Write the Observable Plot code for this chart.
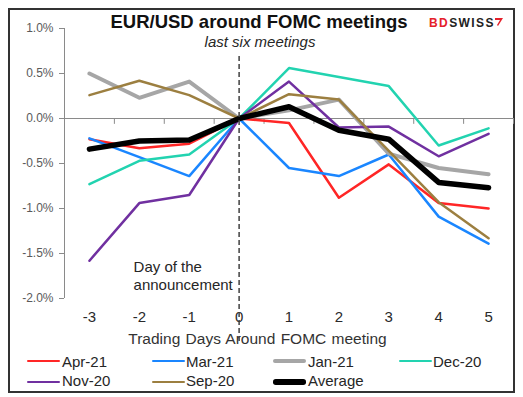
<!DOCTYPE html>
<html><head><meta charset="utf-8">
<script src="https://cdn.jsdelivr.net/npm/d3@7"></script>
<script src="https://cdn.jsdelivr.net/npm/@observablehq/plot@0.6"></script>
<style>
body{margin:0;background:#fff;font-family:"Liberation Sans",Arial,sans-serif;}
#wrap{position:relative;width:523px;height:397px;overflow:hidden;background:#fff;}
#wrap > svg{position:absolute;left:0;top:0;}
.abs{position:absolute;white-space:nowrap;line-height:1;}
#frame{position:absolute;left:8px;top:8px;width:507px;height:385px;box-sizing:border-box;border:2px solid #333;}
</style></head><body><div id="wrap"><div id="frame"></div></div>
<script>
// ---- data ----
const days = [-3, -2, -1, 0, 1, 2, 3, 4, 5];
const seriesNames = ["Apr-21", "Mar-21", "Jan-21", "Dec-20", "Nov-20", "Sep-20", "Average"];
const apr21 = [-0.23, -0.33, -0.28, 0, -0.05, -0.88, -0.51, -0.94, -1.00];
const mar21 = [-0.22, -0.43, -0.64, 0, -0.55, -0.64, -0.40, -1.09, -1.39];
const jan21 = [0.50, 0.23, 0.41, 0, 0.09, 0.21, -0.39, -0.55, -0.62];
const dec20 = [-0.73, -0.47, -0.40, 0, 0.56, 0.46, 0.36, -0.30, -0.11];
const nov20 = [-1.58, -0.94, -0.85, 0, 0.41, -0.10, -0.09, -0.42, -0.17];
const sep20 = [0.26, 0.42, 0.26, 0, 0.27, 0.21, -0.36, -0.93, -1.33];
const average = [-0.34, -0.25, -0.24, 0, 0.13, -0.13, -0.23, -0.71, -0.77];
const yTicks = [-2.0, -1.5, -1.0, -0.5, 0.0, 0.5, 1.0];
const titleText = "EUR/USD around FOMC meetings";
const subtitleText = "last six meetings";
const xLabel = "Trading Days Around FOMC meeting";
const annotation = "Day of the\nannouncement";

// ---- styles ----
const seriesValues = [apr21, mar21, jan21, dec20, nov20, sep20, average];
const colors = ["#ff2626", "#1a86ff", "#a6a6a6", "#22d3b0", "#7030a0", "#9c7f40", "#000000"];
const widths = [2.5, 2.5, 4, 2.5, 2.5, 2.5, 5.5];
const FONT = '"Liberation Sans", Arial, sans-serif';

const rows = [];
seriesNames.forEach((s, i) => days.forEach((d, j) => rows.push({series: s, day: d, value: seriesValues[i][j]})));
const bounds = days.map(d => d + 0.5);

const axisColor = "#8a8a8a";
const marks = [
  Plot.ruleY([0], {stroke: axisColor, strokeWidth: 1}),
  Plot.ruleX([days[0] - 0.5], {stroke: axisColor, strokeWidth: 1}),
  Plot.ruleX(bounds, {x: d => d, y1: 0, y2: -0.065, stroke: axisColor, strokeWidth: 1}),
  Plot.axisY({ticks: yTicks, tickSize: 5, tickPadding: 6, tickFormat: d => d.toFixed(1) + "%",
    fontSize: 12, fill: "#5a5a5a", stroke: axisColor, label: null}),
  Plot.axisX({ticks: days, tickSize: 0, tickPadding: 13, tickFormat: d => String(d),
    fontSize: 15, fill: "#2a2a2a", label: null}),
  Plot.text([annotation], {x: -2.116, y: -1.9, text: d => d, textAnchor: "start", lineAnchor: "bottom",
    lineHeight: 1.15, fontSize: 15, fill: "#262626"}),
  ...seriesNames.map((s, i) => Plot.line(rows.filter(r => r.series === s), {
    x: "day", y: "value", stroke: colors[i], strokeWidth: widths[i],
    strokeLinejoin: "round", strokeLinecap: "round"}))
];

const chart = Plot.plot({
  width: 523, height: 397,
  marginLeft: 64, marginRight: 10, marginTop: 28, marginBottom: 99,
  x: {domain: [days[0] - 0.5, days[days.length - 1] + 0.5]},
  y: {domain: [-2, 1]},
  style: {fontFamily: FONT, background: "transparent", overflow: "visible"},
  marks
});
const wrap = document.getElementById("wrap");
wrap.appendChild(chart);

function addText(txt, css) {
  const el = document.createElement("div");
  el.className = "abs";
  el.textContent = txt;
  Object.assign(el.style, css);
  wrap.appendChild(el);
  return el;
}
// title & subtitle
addText(titleText, {left: "259px", top: "12.8px", transform: "translateX(-50%)", fontSize: "18.5px", fontWeight: "bold", color: "#111"});
addText(subtitleText, {left: "260px", top: "34.3px", transform: "translateX(-50%)", fontSize: "15px", fontStyle: "italic", color: "#262626"});
addText(xLabel, {left: "257.5px", top: "330.9px", transform: "translateX(-50%)", fontSize: "15.5px", wordSpacing: "1px", color: "#333"});

// dashed line for the day of the announcement, drawn over the labels
const dash = Plot.plot({
  width: 523, height: 397,
  marginLeft: 64, marginRight: 10, marginTop: 28, marginBottom: 99,
  x: {domain: [days[0] - 0.5, days[days.length - 1] + 0.5], axis: null},
  y: {domain: [-2, 1], axis: null},
  style: {background: "transparent", overflow: "visible"},
  marks: [Plot.ruleX([0], {y1: 0.69, y2: -2.5, stroke: "#404040", strokeWidth: 1.5, strokeDasharray: "5,3"})]
});
wrap.appendChild(dash);

// logo
const logo = document.createElement("div");
logo.className = "abs";
Object.assign(logo.style, {left: "429px", top: "16.5px", fontSize: "12px", fontWeight: "bold", letterSpacing: "1.4px"});
logo.innerHTML = '<span style="color:#e5202a">BD</span><span style="color:#222">SWISS</span>' +
  '<svg width="10" height="10" viewBox="0 0 10 10" style="vertical-align:top;margin-left:-1px"><path d="M1 1 L9 1 L4 9 L3 8 L6 3 L1 3 Z" fill="#e5202a"/></svg>';
wrap.appendChild(logo);

// legend
const legendPos = [
  {sx: 27, tx: 62, row: 0}, {sx: 152, tx: 186, row: 0}, {sx: 273, tx: 308, row: 0}, {sx: 399, tx: 433, row: 0},
  {sx: 27, tx: 62, row: 1}, {sx: 152, tx: 186, row: 1}, {sx: 273, tx: 308, row: 1}
];
const rowLine = [361, 382], rowTop = [354, 373.3];
seriesNames.forEach((s, i) => {
  const p = legendPos[i];
  const sw = document.createElement("div");
  const h = widths[i];
  Object.assign(sw.style, {position: "absolute", left: p.sx + "px", top: (rowLine[p.row] - h / 2) + "px",
    width: "33px", height: h + "px", background: colors[i], borderRadius: (h / 2) + "px"});
  wrap.appendChild(sw);
  addText(s, {left: p.tx + "px", top: rowTop[p.row] + "px", fontSize: "15px", color: "#262626"});
});
</script>
</body></html>
